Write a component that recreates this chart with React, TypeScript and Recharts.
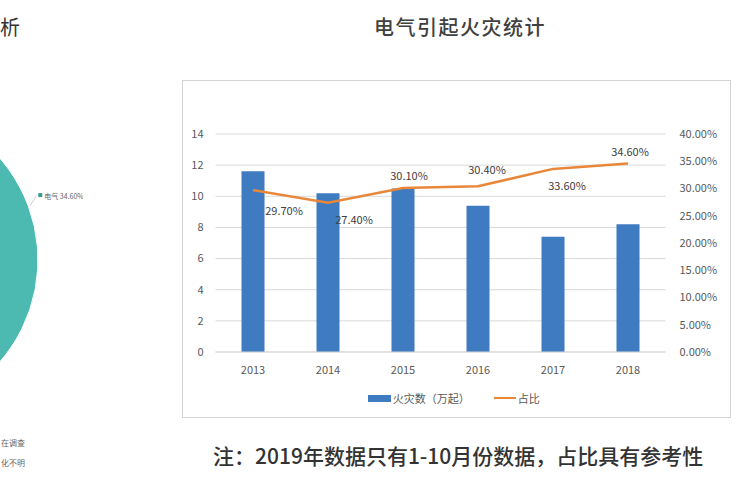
import React from 'react';
import {
  ComposedChart, Bar, Line, XAxis, YAxis, CartesianGrid, Legend, LabelList,
  PieChart, Pie, Cell,
} from 'recharts';

const years = ['2013', '2014', '2015', '2016', '2017', '2018'];
const fireCounts = [11.6, 10.2, 10.5, 9.4, 7.4, 8.2];
const electricShare = [29.7, 27.4, 30.1, 30.4, 33.6, 34.6];
const leftTicks = [0, 2, 4, 6, 8, 10, 12, 14];
const rightTicks = [0, 5, 10, 15, 20, 25, 30, 35, 40];

const pieNames = ['电气', '其他'];
const pieValues = [34.6, 65.4];
const pieColors = ['#4dbab2', '#e6e6e6'];

const data = years.map((year, i) => ({ year, count: fireCounts[i], share: electricShare[i] }));
const pieData = pieNames.map((name, i) => ({ name, value: pieValues[i] }));

// nudges for the share labels, roughly where excel dropped them
const shareLabelOffsets = [[31, 20], [26, 16], [6, -13], [9, -17], [14, 16], [2, -12]];

const BLUE = '#3e7bc1';
const ORANGE = '#e8873a';
const FONT = '"Noto Sans CJK SC", "Noto Sans", sans-serif';
const RADIAN = Math.PI / 180;

const ShareLabel = (props: any) => {
  const { x, y, value } = props;
  const i = props.index ?? electricShare.indexOf(value);
  const [dx, dy] = shareLabelOffsets[i] || [0, -10];
  return (
    <text x={x + dx} y={y + dy} textAnchor="middle" dominantBaseline="central"
      fontSize={11} fill="#404040" fontFamily={FONT}>
      {`${Number(value).toFixed(2)}%`}
    </text>
  );
};

const renderLegend = () => (
  <div style={{
    display: 'flex', justifyContent: 'center', alignItems: 'center', height: 30,
    fontSize: 11, color: '#595959', fontFamily: FONT, gap: 24,
  }}>
    <span style={{ display: 'flex', alignItems: 'center' }}>
      <span style={{ display: 'inline-block', width: 23, height: 7, background: BLUE, marginRight: 2 }} />
      火灾数（万起）
    </span>
    <span style={{ display: 'flex', alignItems: 'center' }}>
      <span style={{ display: 'inline-block', width: 22, height: 2.5, background: ORANGE, marginRight: 2 }} />
      占比
    </span>
  </div>
);

const renderPieLabel = (props: any) => {
  const { cx, cy, midAngle, outerRadius, index, name, value } = props;
  if (index !== 0) return null;
  const sx = cx + (outerRadius + 2) * Math.cos(-midAngle * RADIAN);
  const sy = cy + (outerRadius + 2) * Math.sin(-midAngle * RADIAN);
  const ex = sx + 6;
  const ey = sy - 10;
  return (
    <g>
      <path d={`M${sx},${sy}L${ex},${ey}`} stroke="#aab" strokeWidth={0.6} fill="none" />
      <rect x={ex + 2} y={ey - 2.5} width={4} height={4} fill="#3a9a92" />
      <text x={ex + 8} y={ey} dominantBaseline="central" fontSize={7} fill="#666" fontFamily={FONT}>
        {`${name} ${value.toFixed(2)}%`}
      </text>
    </g>
  );
};

export default function App() {
  return (
    <div style={{ position: 'absolute', left: 0, top: 0, width: 750, height: 500, overflow: 'hidden', background: '#fff', fontFamily: FONT }}>
      {/* left panel, mostly cut off in the source */}
      <div style={{ position: 'absolute', left: 0, top: 14, fontSize: 20, lineHeight: '26px', color: '#333' }}>
        析
      </div>
      <div style={{ position: 'absolute', left: -317, top: 60 }}>
        <PieChart width={400} height={400} margin={{ top: 0, right: 0, bottom: 0, left: 0 }}>
          <Pie data={pieData} dataKey="value" nameKey="name" cx={200} cy={200} outerRadius={155}
            startAngle={-42} endAngle={318} stroke="#fff" strokeWidth={1}
            label={renderPieLabel} labelLine={false} isAnimationActive={false}>
            {pieData.map((d, i) => <Cell key={d.name} fill={pieColors[i]} />)}
          </Pie>
        </PieChart>
      </div>
      <div style={{ position: 'absolute', left: 1, top: 437, fontSize: 8, lineHeight: '12px', color: '#666' }}>在调查</div>
      <div style={{ position: 'absolute', left: 1, top: 457, fontSize: 8, lineHeight: '12px', color: '#666' }}>化不明</div>

      <div style={{ position: 'absolute', left: 300, top: 14, width: 320, textAlign: 'center', fontSize: 20, lineHeight: '26px', color: '#404040', letterSpacing: 1.5, fontWeight: 500 }}>
        电气引起火灾统计
      </div>

      <div style={{ position: 'absolute', left: 182, top: 80, width: 549, height: 338, border: '1.5px solid #d4d4d4', boxSizing: 'border-box' }} />
      <div style={{ position: 'absolute', left: 182, top: 80 }}>
        <ComposedChart width={549} height={338} data={data}
          margin={{ top: 54, right: 5.5, bottom: 5, left: 0 }}>
          <CartesianGrid vertical={false} stroke="#d9d9d9" yAxisId="left" />
          <XAxis dataKey="year" height={31} tickLine={false} axisLine={{ stroke: '#d9d9d9' }}
            tickMargin={8} tick={{ fontSize: 11, fill: '#595959', fontFamily: FONT }} />
          <YAxis yAxisId="left" width={33.5} domain={[0, 14]} ticks={leftTicks} tickLine={false} axisLine={false}
            tickMargin={6} tick={{ fontSize: 11, fill: '#595959', fontFamily: FONT }} />
          <YAxis yAxisId="right" orientation="right" width={60} domain={[0, 40]} ticks={rightTicks}
            tickLine={false} axisLine={false} tickMargin={8}
            tickFormatter={(v: number) => `${v.toFixed(2)}%`}
            tick={{ fontSize: 11, fill: '#595959', fontFamily: FONT, textAnchor: 'start' }} />
          <Legend verticalAlign="bottom" content={renderLegend} />
          <Bar yAxisId="left" dataKey="count" fill={BLUE} barSize={23} isAnimationActive={false} />
          <Line yAxisId="right" dataKey="share" type="linear" stroke={ORANGE} strokeWidth={2.5}
            dot={false} activeDot={false} isAnimationActive={false}>
            <LabelList dataKey="share" content={ShareLabel} />
          </Line>
        </ComposedChart>
      </div>

      <div style={{ position: 'absolute', left: 213, top: 442, fontSize: 21, lineHeight: '26px', color: '#333', whiteSpace: 'nowrap', fontWeight: 500 }}>
        注：2019年数据只有1-10月份数据，占比具有参考性
      </div>
    </div>
  );
}
